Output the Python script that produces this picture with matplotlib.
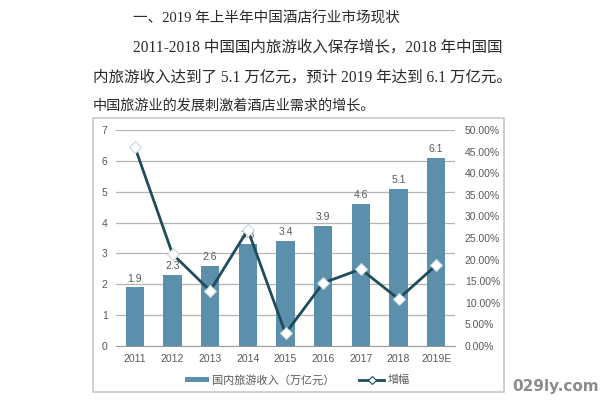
import numpy as np
import matplotlib.pyplot as plt
from matplotlib.patches import Rectangle
from matplotlib.lines import Line2D
from matplotlib.ticker import FuncFormatter

plt.rcParams['font.family'] = ['Noto Sans CJK SC', 'DejaVu Sans']

# 数据
years = ['2011', '2012', '2013', '2014', '2015', '2016', '2017', '2018', '2019E']
revenue = [1.9, 2.3, 2.6, 3.3, 3.4, 3.9, 4.6, 5.1, 6.1]  # 国内旅游收入（万亿元）
growth = [0.461, 0.213, 0.128, 0.269, 0.029, 0.146, 0.178, 0.109, 0.187]  # 增幅

bar_color = '#5b8fab'
line_color = '#1f4b5a'
txt_gray = '#595959'
W, H = 600, 401

fig = plt.figure(figsize=(6, 4.01), dpi=100)
fig.patch.set_facecolor('white')

# 上方正文 (数字用衬线体)
body = '#2b2b2b'
fam = ['Liberation Serif', 'Noto Sans CJK SC']
fig.text(133 / W, 1 - 18 / H, '一、2019 年上半年中国酒店行业市场现状', fontsize=10.5, color=body, va='center', family=fam)
fig.text(133 / W, 1 - 48 / H, '2011-2018 中国国内旅游收入保存增长，2018 年中国国', fontsize=11.2, color=body, va='center', family=fam)
fig.text(93 / W, 1 - 78 / H, '内旅游收入达到了 5.1 万亿元，预计 2019 年达到 6.1 万亿元。', fontsize=11.2, color=body, va='center', family=fam)
fig.text(93 / W, 1 - 106 / H, '中国旅游业的发展刺激着酒店业需求的增长。', fontsize=10.2, color=body, va='center', family=fam)

# 图表外框
fig.patches.append(Rectangle((93 / W, 1 - 392 / H), (504 - 93) / W, (392 - 118) / H,
                             transform=fig.transFigure, facecolor='none',
                             edgecolor='#c8c8c8', lw=1.2))

ax = fig.add_axes([116 / W, 1 - 346 / H, (455 - 116) / W, (346 - 130) / H])
x = np.arange(len(years))
bars = ax.bar(x, revenue, width=0.48, color=bar_color, zorder=2)
for xi, v in zip(x, revenue):
    ax.text(xi, v + 0.12, f'{v}', ha='center', va='bottom', fontsize=7.5,
            color=txt_gray, family='Liberation Sans')

ax.set_xlim(-0.5, len(years) - 0.5)
ax.set_ylim(0, 7)
ax.set_yticks(range(8))
ax.yaxis.grid(True, color='#b5b5b5', lw=0.9)
ax.set_axisbelow(True)
for s in ['top', 'right', 'left']:
    ax.spines[s].set_visible(False)
ax.spines['bottom'].set_color('#9a9a9a')
ax.set_xticks(x)
ax.set_xticklabels(years)
ax.tick_params(length=0, labelsize=7.5, colors=txt_gray, pad=6)
for lab in ax.get_xticklabels() + ax.get_yticklabels():
    lab.set_family('Liberation Sans')

ax2 = ax.twinx()
ax2.plot(x, growth, color=line_color, lw=2, marker='D', markersize=6,
         markerfacecolor='white', markeredgecolor='#c9d6dc', markeredgewidth=0.8, zorder=3)
ax2.set_ylim(0, 0.5)
ax2.set_yticks(np.arange(0, 0.51, 0.05))
ax2.yaxis.set_major_formatter(FuncFormatter(lambda v, p: f'{v * 100:.2f}%'))
for s in ['top', 'right', 'left', 'bottom']:
    ax2.spines[s].set_visible(False)
ax2.tick_params(length=0, labelsize=7.5, colors=txt_gray, pad=7)
for lab in ax2.get_yticklabels():
    lab.set_family('Liberation Sans')

# 图例
handles = [Rectangle((0, 0), 1, 1, facecolor=bar_color),
           Line2D([], [], color=line_color, lw=2, marker='D', markersize=4,
                  markerfacecolor='white', markeredgecolor=line_color, markeredgewidth=0.8)]
fig.legend(handles, ['国内旅游收入（万亿元）', '增幅'], loc='center',
           bbox_to_anchor=(297 / W, 1 - 380 / H), ncol=2, frameon=False,
           fontsize=8, labelcolor=txt_gray, handlelength=2.2, handleheight=0.35,
           handletextpad=0.3, columnspacing=2.2)

# 水印
fig.text(556 / W, 1 - 387 / H, '029ly.com', fontsize=11, fontweight='bold',
         color='#8c8c8c', ha='center', va='center', family='DejaVu Sans')

fig.savefig('out.png', dpi=100, facecolor='white')
